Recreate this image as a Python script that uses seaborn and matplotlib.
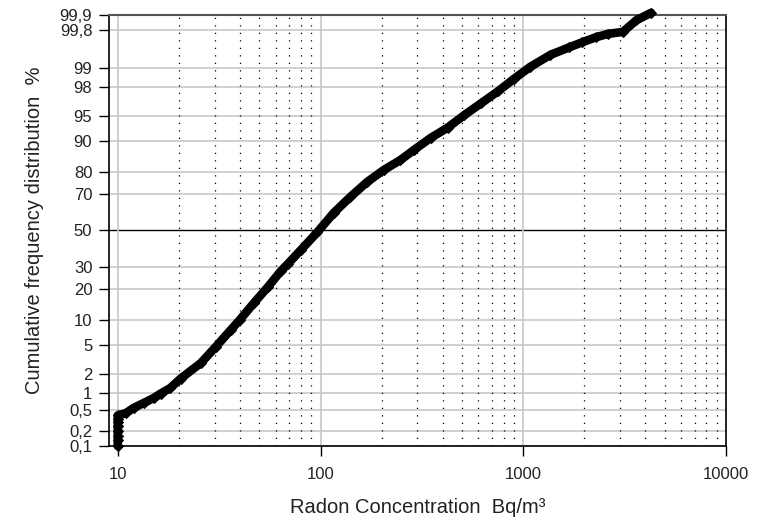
import matplotlib
matplotlib.use('Agg')
import matplotlib.pyplot as plt
import seaborn as sns
import pandas as pd
import numpy as np
from statistics import NormalDist

# radon concentration (Bq/m3) and cumulative frequency (%)
conc = [10, 10, 10, 10, 10, 10, 10, 10, 10.95, 12.0, 13.45, 15.1, 16.3, 18.2, 20.4,
        25.7, 30.4, 36.1, 40, 46.9, 55, 63.7, 68.9, 80, 96.6, 116, 140, 170, 205,
        248, 289, 350, 424, 512, 620, 750, 896, 1081, 1360, 1688, 1944, 2276, 2622,
        3100, 3601, 4264]
cumfreq = [0.1, 0.13, 0.16, 0.2, 0.25, 0.3, 0.35, 0.4, 0.44, 0.55, 0.67, 0.82, 0.97, 1.2, 1.68,
           2.87, 4.75, 7.7, 10, 14.9, 20.9, 28.0, 31.5, 39, 49.1, 59.9, 68.4, 75.7, 80.7,
           84.4, 87.6, 90.8, 93.0, 95.1, 96.6, 97.7, 98.5, 99.05, 99.41, 99.57, 99.65, 99.72, 99.76,
           99.78, 99.87, 99.91]

yticks = [0.1, 0.2, 0.5, 1, 2, 5, 10, 20, 30, 50, 70, 80, 90, 95, 98, 99, 99.8, 99.9]
ylabels = ['0,1', '0,2', '0,5', '1', '2', '5', '10', '20', '30', '50', '70', '80',
           '90', '95', '98', '99', '99,8', '99,9']
xticks = [10, 100, 1000, 10000]

df = pd.DataFrame({'conc': conc, 'cum': cumfreq})

sns.set_style('white')
plt.rcParams['font.family'] = ['Liberation Sans', 'DejaVu Sans']

nd = NormalDist()
_ppf = np.vectorize(nd.inv_cdf, otypes=[float])
_cdf = np.vectorize(nd.cdf, otypes=[float])


def fwd(p):
    return _ppf(np.clip(np.asarray(p, dtype=float) / 100.0, 1e-9, 1 - 1e-9))


def inv(z):
    return _cdf(np.asarray(z, dtype=float)) * 100.0


fig = plt.figure(figsize=(7.74, 5.21), dpi=100)
ax = fig.add_axes([0.1408, 0.144, 0.7972, 0.8272])

ax.set_xscale('log')
ax.set_yscale('function', functions=(fwd, inv))
ax.set_xlim(9.05, 10000)
ax.set_ylim(0.1, 99.9)

# grid
for t in yticks:
    if t == 50:
        ax.axhline(t, color='black', lw=1.0, zorder=1)
    else:
        ax.axhline(t, color='#c8c8c8', lw=1.2, zorder=1)
for t in xticks[:-1]:
    ax.axvline(t, color='#c8c8c8', lw=1.2, zorder=1)
minors = [m * d for d in (10, 100, 1000) for m in range(2, 10)]
for t in minors:
    ax.axvline(t, color='black', lw=0.9, ls=(0, (1, 5)), zorder=1)

sns.lineplot(data=df, x='conc', y='cum', ax=ax, color='black', lw=6.2,
             marker='D', markersize=5.5, markeredgecolor='black',
             solid_joinstyle='round', solid_capstyle='round',
             sort=False, estimator=None, zorder=3, clip_on=False)

ax.set_yticks(yticks)
ax.set_yticklabels(ylabels)
ax.yaxis.set_minor_locator(matplotlib.ticker.NullLocator())
ax.set_xticks(xticks)
ax.set_xticklabels([str(t) for t in xticks])
ax.xaxis.set_minor_locator(matplotlib.ticker.NullLocator())

ax.tick_params(axis='both', which='major', direction='out', length=7, width=1,
               color='black', labelsize=12, labelcolor='#222222')
ax.tick_params(axis='y', pad=5)
ax.tick_params(axis='x', pad=8)
ax.tick_params(left=True, bottom=True)

for s in ['left', 'bottom', 'right']:
    ax.spines[s].set_color('black')
    ax.spines[s].set_linewidth(1.2)
ax.spines['top'].set_color('#555555')
ax.spines['top'].set_linewidth(1.5)

ax.set_xlabel('Radon Concentration  Bq/m³', fontsize=14.5, color='#222222', labelpad=12)
ax.set_ylabel('Cumulative frequency distribution  %', fontsize=14.5, color='#222222', labelpad=11)

fig.savefig('out.png', dpi=100)
